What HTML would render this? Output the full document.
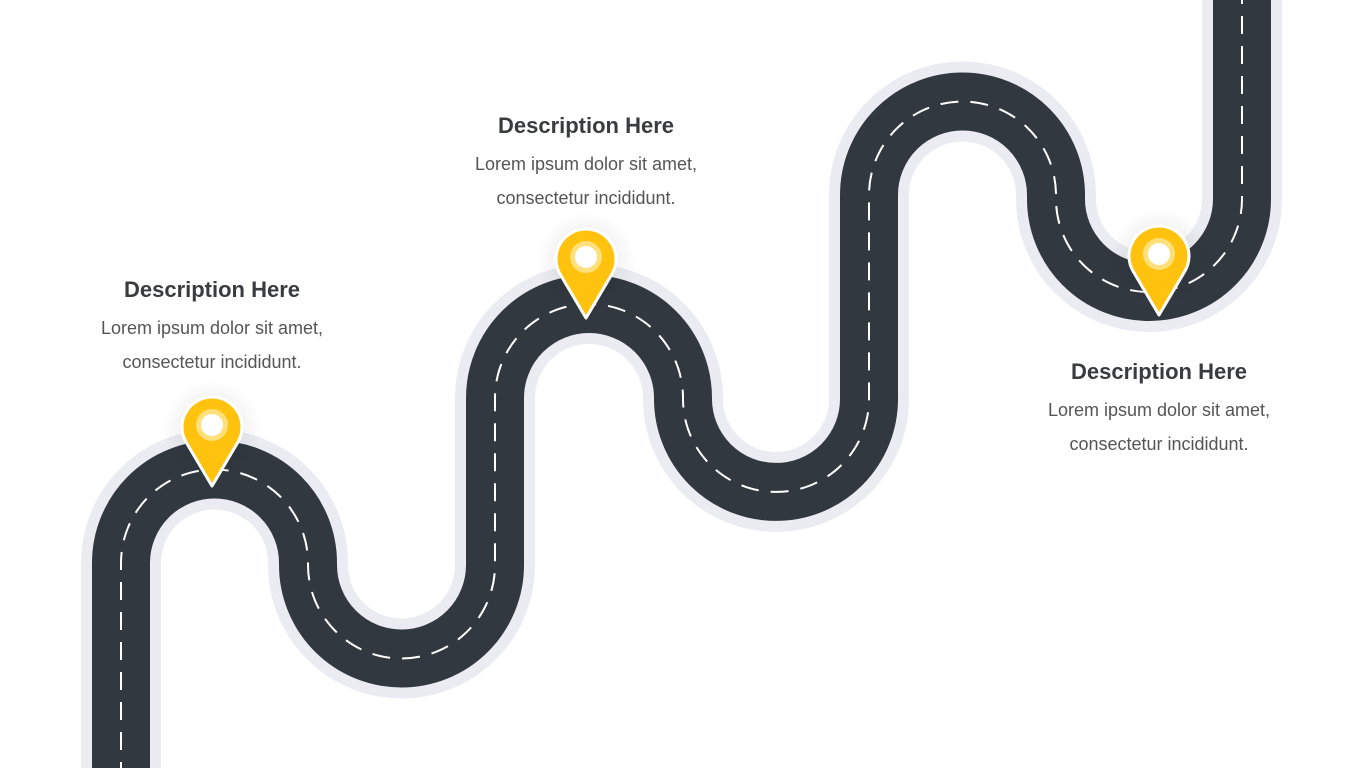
<!DOCTYPE html>
<html><head><meta charset="utf-8"><style>
html,body{margin:0;padding:0;background:#fff;width:1365px;height:768px;overflow:hidden}
.t{position:absolute;width:360px;text-align:center;font-family:"Liberation Sans",sans-serif;color:#333}
.t h3{margin:0;font-size:22px;font-weight:bold;color:#3a3b3e;line-height:26px}
.t p{margin:8px 0 0;font-size:18px;line-height:34px;color:#555;font-weight:normal}
</style></head><body>
<svg width="1365" height="768" style="position:absolute;left:0;top:0">
<defs>
<radialGradient id="sh"><stop offset="0" stop-color="#000" stop-opacity="0.12"/><stop offset="1" stop-color="#000" stop-opacity="0"/></radialGradient>
</defs>
<g fill="none" stroke-linecap="butt">
<path d="M121,780 L121,563 A93.5,93.5 0 0 1 308,563 L308,565 A93.5,93.5 0 0 0 495,565 L495,398 A94,94 0 0 1 683,398 L683,399 A93,93 0 0 0 869,399 L869,195 A93.5,93.5 0 0 1 1056,195 L1056,199 A93,93 0 0 0 1242,199 L1242,-10" stroke="#ebecf2" stroke-width="80"/>
<path d="M121,780 L121,563 A93.5,93.5 0 0 1 308,563 L308,565 A93.5,93.5 0 0 0 495,565 L495,398 A94,94 0 0 1 683,398 L683,399 A93,93 0 0 0 869,399 L869,195 A93.5,93.5 0 0 1 1056,195 L1056,199 A93,93 0 0 0 1242,199 L1242,-10" stroke="#323840" stroke-width="58"/>
<path d="M121,780 L121,563 A93.5,93.5 0 0 1 308,563 L308,565 A93.5,93.5 0 0 0 495,565 L495,398 A94,94 0 0 1 683,398 L683,399 A93,93 0 0 0 869,399 L869,195 A93.5,93.5 0 0 1 1056,195 L1056,199 A93,93 0 0 0 1242,199 L1242,-10" stroke="#fff" stroke-width="2" stroke-dasharray="18 12"/>
</g>
<g>
<circle cx="212" cy="430" r="50" fill="url(#sh)"/>
<circle cx="586" cy="262" r="50" fill="url(#sh)"/>
<circle cx="1159" cy="258" r="50" fill="url(#sh)"/>
</g>
<g>
<path d="M212,486 L186,442 A30,30 0 1 1 238,442 Z" fill="#ffc20e" stroke="#fff" stroke-width="3" stroke-linejoin="round"/>
<circle cx="212" cy="425" r="16" fill="#ffe07a"/><circle cx="212" cy="425" r="11" fill="#fff"/>
<path d="M586,318 L560,274 A30,30 0 1 1 612,274 Z" fill="#ffc20e" stroke="#fff" stroke-width="3" stroke-linejoin="round"/>
<circle cx="586" cy="257" r="16" fill="#ffe07a"/><circle cx="586" cy="257" r="11" fill="#fff"/>
<path d="M1159,315 L1133,271 A30,30 0 1 1 1185,271 Z" fill="#ffc20e" stroke="#fff" stroke-width="3" stroke-linejoin="round"/>
<circle cx="1159" cy="254" r="16" fill="#ffe07a"/><circle cx="1159" cy="254" r="11" fill="#fff"/>
</g>
</svg>
<div class="t" style="left:32px;top:277px"><h3>Description Here</h3><p>Lorem ipsum dolor sit amet,<br>consectetur incididunt.</p></div>
<div class="t" style="left:406px;top:113px"><h3>Description Here</h3><p>Lorem ipsum dolor sit amet,<br>consectetur incididunt.</p></div>
<div class="t" style="left:979px;top:359px"><h3>Description Here</h3><p>Lorem ipsum dolor sit amet,<br>consectetur incididunt.</p></div>
</body></html>
